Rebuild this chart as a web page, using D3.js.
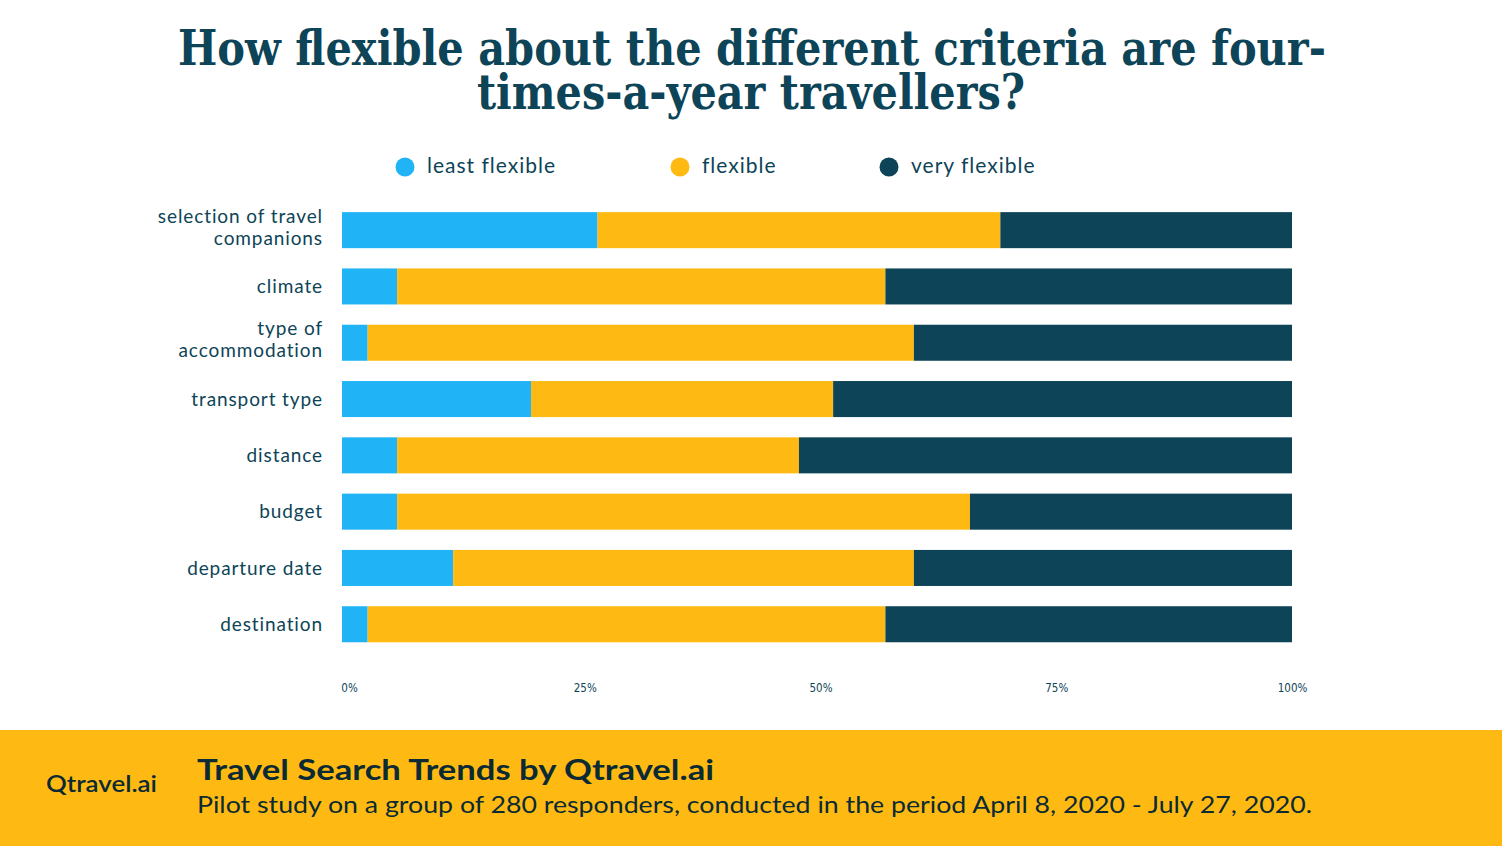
<!DOCTYPE html>
<html><head><meta charset="utf-8">
<script src="https://cdn.jsdelivr.net/npm/d3@7"></script>
<style>
html,body{margin:0;padding:0;background:#fff;}
svg{display:block;}
</style></head>
<body>
<svg id="chart" width="1502" height="846"></svg>
<script>
const categories = [
  ["selection of travel","companions"],
  ["climate"],
  ["type of","accommodation"],
  ["transport type"],
  ["distance"],
  ["budget"],
  ["departure date"],
  ["destination"]
];
const seriesNames = ["least flexible","flexible","very flexible"];
const leastFlexible = [26.9, 5.8, 2.7, 19.9, 5.8, 5.8, 11.7, 2.7];
const flexible      = [42.4, 51.4, 57.5, 31.8, 42.3, 60.3, 48.5, 54.5];
const veryFlexible  = [30.7, 42.8, 39.8, 48.3, 51.9, 33.9, 39.8, 42.8];
const tickValues = [0, 25, 50, 75, 100];
const tickLabels = ["0%","25%","50%","75%","100%"];
const titleLines = ["How flexible about the different criteria are four-","times-a-year travellers?"];

const colors = ["#20b4f6","#feba12","#0d4457"];
const dark = "#0d4457";
const svg = d3.select("#chart");

// title
const title = svg.append("g");
const tl = [{x:752,y:65,w:1148},{x:751,y:109,w:548}];
titleLines.forEach((t,i)=>{
  title.append("text").attr("x",tl[i].x).attr("y",tl[i].y)
    .attr("text-anchor","middle")
    .attr("font-family","'DejaVu Serif Condensed','DejaVu Serif',serif")
    .attr("font-weight","bold").attr("font-size",48)
    .attr("textLength",tl[i].w).attr("lengthAdjust","spacingAndGlyphs")
    .attr("fill",dark).text(t);
});

// data table
const keys = ["least","flex","very"];
const rows = categories.map((c,i)=>({key:c.join(" "),lines:c,least:leastFlexible[i],flex:flexible[i],very:veryFlexible[i]}));
const stacked = d3.stack().keys(keys)(rows);

const x = d3.scaleLinear().domain([0,100]).range([342,1292]);
const y = d3.scaleBand().domain(rows.map(r=>r.key)).range([202,652.4]).paddingInner(0.36).paddingOuter(0.18);

svg.append("g").selectAll("g").data(stacked).join("g")
  .attr("fill",(d,i)=>colors[i])
  .selectAll("rect").data(d=>d).join("rect")
  .attr("x",d=>x(d[0])).attr("width",d=>x(d[1])-x(d[0]))
  .attr("y",d=>y(d.data.key)).attr("height",y.bandwidth());

// category labels
const lab = svg.append("g");
rows.forEach(r=>{
  const cy = y(r.key)+y.bandwidth()/2;
  const n = r.lines.length;
  r.lines.forEach((ln,j)=>{
    lab.append("text").attr("x",323)
      .attr("y",cy + (j-(n-1)/2)*22 - (n>1?3:0))
      .attr("dy","0.35em").attr("text-anchor","end")
      .attr("font-family","Lato, 'Noto Sans', sans-serif").attr("font-size",19)
      .attr("letter-spacing",0.9)
      .attr("fill",dark).text(ln);
  });
});

// x axis labels
const xt = d3.scaleLinear().domain([0,100]).range([349,1292]);
const ax = svg.append("g").attr("transform","translate(0,688)")
  .call(d3.axisBottom(xt).tickValues(tickValues).tickFormat((d,i)=>tickLabels[i]).tickSize(0).tickPadding(0));
ax.select(".domain").remove();
ax.selectAll("text").attr("font-family","'Liberation Sans Narrow','DejaVu Sans Condensed',sans-serif")
  .attr("font-size",11.5).attr("fill",dark).attr("dy","0.35em");

// legend
const legX = [405,680,889];
const leg = svg.append("g");
seriesNames.forEach((s,i)=>{
  leg.append("circle").attr("cx",legX[i]).attr("cy",167).attr("r",9.5).attr("fill",colors[i]);
  leg.append("text").attr("x",legX[i]+22).attr("y",166).attr("dy","0.35em")
    .attr("font-family","Lato, 'Noto Sans', sans-serif").attr("font-size",21)
    .attr("letter-spacing",1)
    .attr("fill",dark).text(s);
});

// footer
svg.append("rect").attr("x",0).attr("y",730).attr("width",1502).attr("height",116).attr("fill","#feba12");
svg.append("text").attr("x",46).attr("y",792).attr("font-family","Lato, sans-serif").attr("font-weight","600")
  .attr("font-size",23).attr("textLength",111).attr("lengthAdjust","spacingAndGlyphs")
  .attr("fill","#0b2a33").text("Qtravel.ai");
svg.append("text").attr("x",197).attr("y",780).attr("font-family","Lato, sans-serif").attr("font-weight","bold")
  .attr("font-size",29).attr("textLength",517).attr("lengthAdjust","spacingAndGlyphs")
  .attr("fill","#0b2a33").text("Travel Search Trends by Qtravel.ai");
svg.append("text").attr("x",197).attr("y",813).attr("font-family","Lato, sans-serif")
  .attr("font-size",23.5).attr("textLength",1115).attr("lengthAdjust","spacingAndGlyphs")
  .attr("fill","#0b2a33").text("Pilot study on a group of 280 responders, conducted in the period April 8, 2020 - July 27, 2020.");
</script>
</body></html>
